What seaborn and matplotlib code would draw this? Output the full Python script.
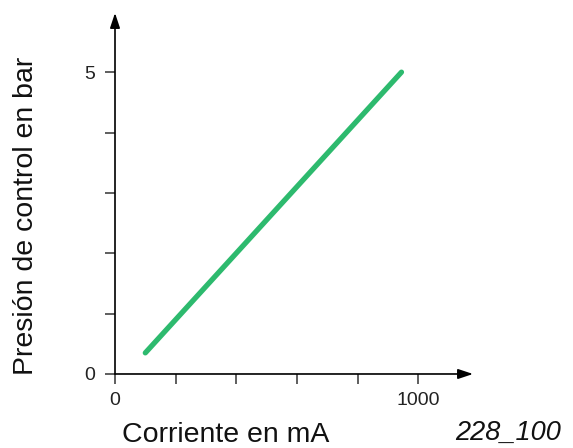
import matplotlib
matplotlib.use("Agg")
import matplotlib.pyplot as plt
import seaborn as sns
import pandas as pd

# Control pressure vs. solenoid current
corriente_ma = [100, 945]
presion_bar = [0.35, 5.0]

x_ticks = [0, 200, 400, 600, 800, 1000]
x_tick_labels = ["0", "", "", "", "", "1000"]
y_ticks = [0, 1, 2, 3, 4, 5]
y_tick_labels = ["0", "", "", "", "", "5"]

sns.set_style("white")
plt.rcParams["font.family"] = ["Liberation Sans", "DejaVu Sans"]

fig = plt.figure(figsize=(5.73, 4.48), dpi=100)
ax = fig.add_axes([0.2007, 0.1652, 0.6248, 0.8058])

df = pd.DataFrame({"corriente": corriente_ma, "presion": presion_bar})
sns.lineplot(data=df, x="corriente", y="presion", ax=ax, color="#2dba6e",
             linewidth=3.8, solid_capstyle="round")

ax.set_xlim(0, 1181)
ax.set_ylim(0, 5.98)

for s in ax.spines.values():
    s.set_visible(False)

# Axis lines with arrow heads
arrow = dict(arrowstyle="-|>,head_length=0.9,head_width=0.3", color="black",
             lw=1.2, shrinkA=0, shrinkB=0)
ax.annotate("", xy=(1, 0), xytext=(0, 0), xycoords="axes fraction",
            arrowprops=arrow)
ax.annotate("", xy=(0, 1), xytext=(0, 0), xycoords="axes fraction",
            arrowprops=arrow)

ax.set_xticks(x_ticks)
ax.set_xticklabels(x_tick_labels)
ax.set_yticks(y_ticks)
ax.set_yticklabels(y_tick_labels)
ax.tick_params(axis="both", direction="out", length=7, width=1.1,
               color="#333333", labelsize=14, labelcolor="#222222",
               bottom=True, left=True)
ax.tick_params(axis="x", pad=6)
ax.tick_params(axis="y", pad=7)

ax.set_xlabel("")
ax.set_ylabel("")
fig.text(226 / 573, 1 - 435 / 448, "Corriente en mA", ha="center", va="center",
         fontsize=20.5, color="#111111")
fig.text(26 / 573, 1 - 216 / 448, "Presión de control en bar", ha="center",
         va="center", rotation=90, fontsize=20.5, color="#111111")
fig.text(508 / 573, 1 - 433 / 448, "228_100", ha="center", va="center",
         fontsize=19.5, style="italic", color="#111111")

fig.savefig("out.png", dpi=100)
